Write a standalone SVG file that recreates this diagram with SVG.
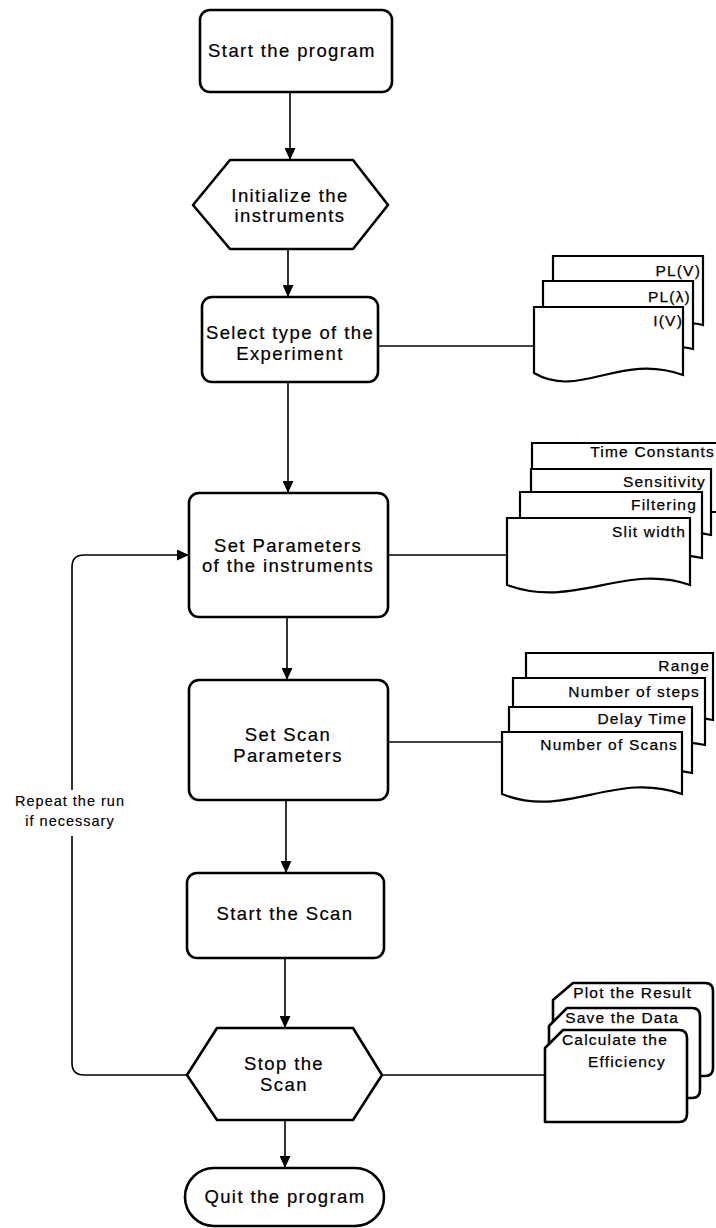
<svg xmlns="http://www.w3.org/2000/svg" width="716" height="1228" viewBox="0 0 716 1228">
  <style>
    .box { fill: #fff; stroke: #000; stroke-width: 2.6; stroke-linejoin: round; }
    .sheet { fill: #fff; stroke: #000; stroke-width: 2.2; stroke-linejoin: miter; }
    .wire { fill: none; stroke: #000; stroke-width: 1.6; }
    .lbl { font-family: "Liberation Sans", Arial, sans-serif; font-size: 18.5px; letter-spacing: 1.4px; text-anchor: middle; fill: #000; stroke: #000; stroke-width: 0.2px; }
    .doc { font-family: "Liberation Sans", Arial, sans-serif; font-size: 15.5px; letter-spacing: 1.2px; text-anchor: end; fill: #000; stroke: #000; stroke-width: 0.25px; }
    .note { font-family: "Liberation Sans", Arial, sans-serif; font-size: 14.5px; letter-spacing: 1px; text-anchor: middle; fill: #000; stroke: #000; stroke-width: 0.15px; }
  </style>
  <defs>
    <marker id="arrow" markerUnits="userSpaceOnUse" markerWidth="12" markerHeight="11" refX="12" refY="5.5" orient="auto">
      <path d="M0,0 L12,5.5 L0,11 z" fill="#000"/>
    </marker>
  </defs>
  <rect width="716" height="1228" fill="#fff"/>

  <!-- connectors -->
  <g id="connectors">
    <line class="wire" x1="290" y1="92" x2="290" y2="160" marker-end="url(#arrow)"/>
    <line class="wire" x1="288" y1="249" x2="288" y2="297" marker-end="url(#arrow)"/>
    <line class="wire" x1="288" y1="382" x2="288" y2="493" marker-end="url(#arrow)"/>
    <line class="wire" x1="287" y1="617" x2="287" y2="680" marker-end="url(#arrow)"/>
    <line class="wire" x1="286" y1="800" x2="286" y2="873" marker-end="url(#arrow)"/>
    <line class="wire" x1="285" y1="958" x2="285" y2="1028" marker-end="url(#arrow)"/>
    <line class="wire" x1="285" y1="1120" x2="285" y2="1168" marker-end="url(#arrow)"/>
    <!-- side links to the document stacks -->
    <line class="wire" x1="378" y1="346" x2="534" y2="346"/>
    <line class="wire" x1="388" y1="555" x2="507" y2="555"/>
    <line class="wire" x1="388" y1="742" x2="502" y2="742"/>
    <line class="wire" x1="382" y1="1075" x2="545" y2="1075"/>
    <!-- repeat loop -->
    <path class="wire" d="M187,1075 H84 Q72,1075 72,1063 V836"/>
    <path class="wire" d="M72,790 V567 Q72,555 84,555 H189" marker-end="url(#arrow)"/>
    <text class="note" x="70" y="806">Repeat the run</text>
    <text class="note" x="70" y="826">if necessary</text>
  </g>

  <g id="start">
    <rect class="box" x="200" y="10" width="192" height="82" rx="10"/>
    <text class="lbl" x="292" y="57">Start the program</text>
  </g>

  <g id="init">
    <polygon class="box" points="193,205 230,160 353,160 388,205 353,249 230,249"/>
    <text class="lbl" x="290" y="202">Initialize the</text>
    <text class="lbl" x="290" y="222">instruments</text>
  </g>

  <g id="select">
    <rect class="box" x="202" y="297" width="176" height="85" rx="10"/>
    <text class="lbl" x="290" y="339">Select type of the</text>
    <text class="lbl" x="290" y="360">Experiment</text>
  </g>

  <g id="experiments">
    <path class="sheet" d="M553,325 V256 H703 V325 C650,313 600,345 553,325 z"/>
    <path class="sheet" d="M543,349 V281 H693 V349 C640,337 590,369 543,349 z"/>
    <path class="sheet" d="M534,373 V307 H683 V375 C620,352 580,400 534,373 z"/>
    <text class="doc" x="701" y="276">PL(V)</text>
    <text class="doc" x="691" y="302">PL(λ)</text>
    <text class="doc" x="683" y="326">I(V)</text>
  </g>

  <g id="set-params">
    <rect class="box" x="189" y="493" width="199" height="124" rx="10"/>
    <text class="lbl" x="288" y="552">Set Parameters</text>
    <text class="lbl" x="288" y="572">of the instruments</text>
  </g>

  <g id="instrument-params">
    <path class="sheet" d="M532,512 V443 H722 V512 z"/>
    <path class="sheet" d="M531,535 V469 H711 V535 C650,522 590,555 531,535 z"/>
    <path class="sheet" d="M520,558 V492 H702 V558 C640,545 580,578 520,558 z"/>
    <path class="sheet" d="M507,585 V518 H690 V585 C625,562 575,610 507,585 z"/>
    <text class="doc" x="715" y="457">Time Constants</text>
    <text class="doc" x="706" y="487">Sensitivity</text>
    <text class="doc" x="697" y="510">Filtering</text>
    <text class="doc" x="686" y="537">Slit width</text>
  </g>

  <g id="set-scan">
    <rect class="box" x="189" y="680" width="199" height="120" rx="10"/>
    <text class="lbl" x="288" y="741">Set Scan</text>
    <text class="lbl" x="288" y="762">Parameters</text>
  </g>

  <g id="scan-params">
    <path class="sheet" d="M526,720 V653 H713 V720 C650,707 590,740 526,720 z"/>
    <path class="sheet" d="M513,745 V678 H705 V745 C640,732 580,765 513,745 z"/>
    <path class="sheet" d="M509,773 V707 H692 V773 C630,760 570,793 509,773 z"/>
    <path class="sheet" d="M502,794 V732 H682 V794 C615,770 565,820 502,794 z"/>
    <text class="doc" x="710" y="671">Range</text>
    <text class="doc" x="700" y="697">Number of steps</text>
    <text class="doc" x="687" y="724">Delay Time</text>
    <text class="doc" x="678" y="750">Number of Scans</text>
  </g>

  <g id="start-scan">
    <rect class="box" x="187" y="873" width="197" height="85" rx="10"/>
    <text class="lbl" x="285" y="920">Start the Scan</text>
  </g>

  <g id="stop-scan">
    <polygon class="box" points="187,1075 217,1028 353,1028 382,1075 353,1120 217,1120"/>
    <text class="lbl" x="284" y="1070">Stop the</text>
    <text class="lbl" x="284" y="1091">Scan</text>
  </g>

  <g id="results">
    <path class="box" d="M553,1076 V1000 L573,983 H705 Q713,983 713,991 V1068 Q713,1076 705,1076 z"/>
    <path class="box" d="M549,1098 V1026 L567,1008 H692 Q700,1008 700,1016 V1090 Q700,1098 692,1098 z"/>
    <path class="box" d="M545,1122 V1048 L563,1030 H679 Q687,1030 687,1038 V1114 Q687,1122 679,1122 z"/>
    <text class="doc" x="692" y="998">Plot the Result</text>
    <text class="doc" x="679" y="1023">Save the Data</text>
    <text class="doc" x="668" y="1045">Calculate the</text>
    <text class="doc" x="666" y="1067">Efficiency</text>
  </g>

  <g id="quit">
    <rect class="box" x="185" y="1168" width="199" height="58" rx="29"/>
    <text class="lbl" x="285" y="1203">Quit the program</text>
  </g>
</svg>
